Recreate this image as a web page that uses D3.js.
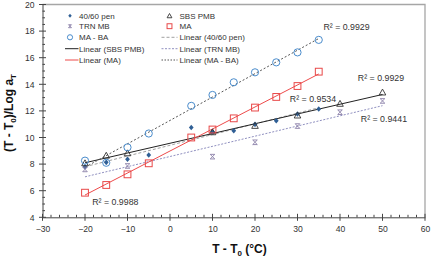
<!DOCTYPE html>
<html><head><meta charset="utf-8">
<script src="https://cdn.jsdelivr.net/npm/d3@7"></script>
<style>
html,body{margin:0;padding:0;background:#fff;}
svg{display:block;font-family:"Liberation Sans",Arial,sans-serif;}
</style></head>
<body>
<svg id="c" width="431" height="257"></svg>
<script>
// ---- data ----
const pen4060X = [-20,-15,-10,-5,5,10,15,20,25,30,35];
const pen4060Y = [7.8,8.13,8.36,8.68,10.75,10.43,10.51,10.99,11.26,11.77,12.14];
const sbsX = [-20,-15,-10,10,20,30,40,50];
const sbsY = [8.05,8.62,8.8,10.38,10.86,11.64,12.52,13.37];
const trnX = [-20,-10,10,20,30,40,50];
const trnY = [7.6,7.86,8.56,9.64,10.86,11.9,12.75];
const maX = [-20,-15,-10,-5,5,10,15,20,25,30,35];
const maY = [5.85,6.43,7.23,8.06,10.0,10.6,11.44,12.25,13.05,13.87,14.95];
const mabaX = [-20,-15,-10,-5,5,10,15,20,25,30,35];
const mabaY = [8.26,8.1,9.26,10.3,12.38,13.2,14.15,14.9,15.65,16.4,17.34];
const xTicks = [-30,-20,-10,0,10,20,30,40,50,60];
const yTicks = [4,6,8,10,12,14,16,18,20];
const r2Labels = ["R² = 0.9929","R² = 0.9929","R² = 0.9534","R² = 0.9441","R² = 0.9988"];
const r2X = [36.1,44.2,28.2,44.9,-18.3];
const r2Y = [18.33,14.5,12.87,11.39,5.15];

const svg = d3.select("#c");
const x = d3.scaleLinear().domain([-30,60]).range([42.5,425]);
const y = d3.scaleLinear().domain([4,20]).range([217.3,4.5]);

// frame (top/right gray)
svg.append("path").attr("d",`M${x(-30)},${y(20)}H${x(60)}V${y(4)}`)
  .attr("fill","none").attr("stroke","#a6a6a6").attr("stroke-width",1.3);

// axes
const fs = 8.6;
const gx = svg.append("g").attr("transform",`translate(0,${y(4)})`);
gx.call(d3.axisBottom(x).tickValues(xTicks).tickSize(0).tickPadding(9).tickFormat(d3.format("d")));
gx.select(".domain").attr("stroke","#444").attr("stroke-width",1);
gx.selectAll("text").attr("font-size",fs).attr("fill","#333").attr("font-family","Liberation Sans, Arial, sans-serif");
xTicks.forEach(v=>gx.append("line").attr("x1",x(v)).attr("x2",x(v)).attr("y1",-3.5).attr("y2",3.5).attr("stroke","#444"));
d3.range(-30,60.01,2).forEach(v=>{ if(v%10!==0) gx.append("line").attr("x1",x(v)).attr("x2",x(v)).attr("y1",-2.5).attr("y2",0).attr("stroke","#444");});

const gy = svg.append("g").attr("transform",`translate(${x(-30)},0)`);
gy.call(d3.axisLeft(y).tickValues(yTicks).tickSize(0).tickPadding(8).tickFormat(d3.format("d")));
gy.select(".domain").attr("stroke","#444").attr("stroke-width",1);
gy.selectAll("text").attr("font-size",fs).attr("fill","#333").attr("font-family","Liberation Sans, Arial, sans-serif");
yTicks.forEach(v=>gy.append("line").attr("y1",y(v)).attr("y2",y(v)).attr("x1",-3.5).attr("x2",3.5).attr("stroke","#444"));
d3.range(4,20.01,0.5).forEach(v=>{ if(v%2!==0) gy.append("line").attr("y1",y(v)).attr("y2",y(v)).attr("x1",0).attr("x2",2.5).attr("stroke","#444");});

// titles
const xt = svg.append("text").attr("x",239.5).attr("y",253).attr("text-anchor","middle")
  .attr("font-weight","bold").attr("font-size",12).attr("fill","#111");
xt.append("tspan").text("T - T");
xt.append("tspan").text("0").attr("font-size",8).attr("dy",3);
xt.append("tspan").text(" (°C)").attr("dy",-3);
const yt = svg.append("text").attr("transform","translate(13,113) rotate(-90)").attr("text-anchor","middle")
  .attr("font-weight","bold").attr("font-size",12).attr("fill","#111");
yt.append("tspan").text("(T - T");
yt.append("tspan").text("0").attr("font-size",8).attr("dy",3);
yt.append("tspan").text(")/Log a").attr("dy",-3);
yt.append("tspan").text("T").attr("font-size",8).attr("dy",3);

// regression
function fit(xs,ys){
  const mx=d3.mean(xs), my=d3.mean(ys);
  let sxy=0,sxx=0; xs.forEach((v,i)=>{sxy+=(v-mx)*(ys[i]-my);sxx+=(v-mx)*(v-mx);});
  const b=sxy/sxx, a=my-b*mx; const x0=d3.min(xs),x1=d3.max(xs);
  return [[x0,a+b*x0],[x1,a+b*x1]];
}
const line = d3.line().x(d=>x(d[0])).y(d=>y(d[1]));
const trends = [
  {xs:pen4060X,ys:pen4060Y,color:"#a0a0a0",dash:"3,2",w:1},
  {xs:sbsX,ys:sbsY,color:"#222",dash:null,w:1},
  {xs:trnX,ys:trnY,color:"#9090c0",dash:"2,1.5",w:1},
  {xs:maX,ys:maY,color:"#ee4b4b",dash:null,w:1},
  {xs:mabaX,ys:mabaY,color:"#555",dash:"2,2",w:1}
];
trends.forEach(t=>{
  svg.append("path").attr("d",line(fit(t.xs,t.ys))).attr("fill","none")
    .attr("stroke",t.color).attr("stroke-width",t.w).attr("stroke-dasharray",t.dash);
});

// marker drawers (k = scale)
function diamond(g,cx,cy,k=1){ g.append("path").attr("d",`M${cx},${cy-2.8*k}L${cx+2.4*k},${cy}L${cx},${cy+2.8*k}L${cx-2.4*k},${cy}Z`).attr("fill","#2f5f95"); }
function tri(g,cx,cy,k=1){ g.append("path").attr("d",`M${cx},${cy-3.6*k}L${cx+3.3*k},${cy+2.3*k}L${cx-3.3*k},${cy+2.3*k}Z`).attr("fill","none").attr("stroke","#333").attr("stroke-width",0.9); }
function star(g,cx,cy,k=1){ const s=2.3*k; g.append("path").attr("d",`M${cx-s},${cy-s}L${cx+s},${cy+s}M${cx-s},${cy+s}L${cx+s},${cy-s}M${cx-s},${cy-s}H${cx+s}M${cx-s},${cy+s}H${cx+s}`).attr("stroke","#8a7fa8").attr("stroke-width",0.9).attr("fill","none"); }
function sq(g,cx,cy,k=1){ g.append("rect").attr("x",cx-3.4*k).attr("y",cy-3.4*k).attr("width",6.8*k).attr("height",6.8*k).attr("fill","none").attr("stroke","#e84848").attr("stroke-width",1); }
function circ(g,cx,cy,k=1){ g.append("circle").attr("cx",cx).attr("cy",cy).attr("r",3.6*k).attr("fill","none").attr("stroke","#4a8ccc").attr("stroke-width",1); }

const gm = svg.append("g");
pen4060X.forEach((v,i)=>diamond(gm,x(v),y(pen4060Y[i])));
sbsX.forEach((v,i)=>tri(gm,x(v),y(sbsY[i])));
trnX.forEach((v,i)=>star(gm,x(v),y(trnY[i])));
maX.forEach((v,i)=>sq(gm,x(v),y(maY[i])));
mabaX.forEach((v,i)=>circ(gm,x(v),y(mabaY[i])));

// R2 labels
r2Labels.forEach((t,i)=>{
  svg.append("text").attr("x",x(r2X[i])).attr("y",y(r2Y[i])).attr("dy","0.35em")
    .attr("font-size",8.8).attr("fill","#333").text(t);
});

// legend
const lg = svg.append("g").attr("font-size",8).attr("fill","#333");
const rows=[15.7,26.2,37.3,48.7,60];
const col1 = ["40/60 pen","TRN MB","MA - BA","Linear (SBS PMB)","Linear (MA)"];
const col2 = ["SBS PMB","MA","Linear (40/60 pen)","Linear (TRN MB)","Linear (MA - BA)"];
const lk = 0.72;
diamond(lg,70,rows[0],lk); star(lg,70,rows[1],lk*0.9); circ(lg,70,rows[2],lk);
lg.append("line").attr("x1",65).attr("x2",78.5).attr("y1",rows[3]).attr("y2",rows[3]).attr("stroke","#222");
lg.append("line").attr("x1",65).attr("x2",78.5).attr("y1",rows[4]).attr("y2",rows[4]).attr("stroke","#ee4b4b");
col1.forEach((t,i)=>lg.append("text").attr("x",79).attr("y",rows[i]).attr("dy","0.35em").text(t));
tri(lg,169.5,rows[0]+0.4,lk); sq(lg,169.5,rows[1],lk);
[["#a0a0a0","3,2"],["#9090c0","2,1.5"],["#555","1.5,1.5"]].forEach((s,k)=>{
  lg.append("line").attr("x1",161.5).attr("x2",177.5).attr("y1",rows[k+2]).attr("y2",rows[k+2]).attr("stroke",s[0]).attr("stroke-dasharray",s[1]);
});
col2.forEach((t,i)=>lg.append("text").attr("x",179.5).attr("y",rows[i]).attr("dy","0.35em").text(t));
</script>
</body></html>
